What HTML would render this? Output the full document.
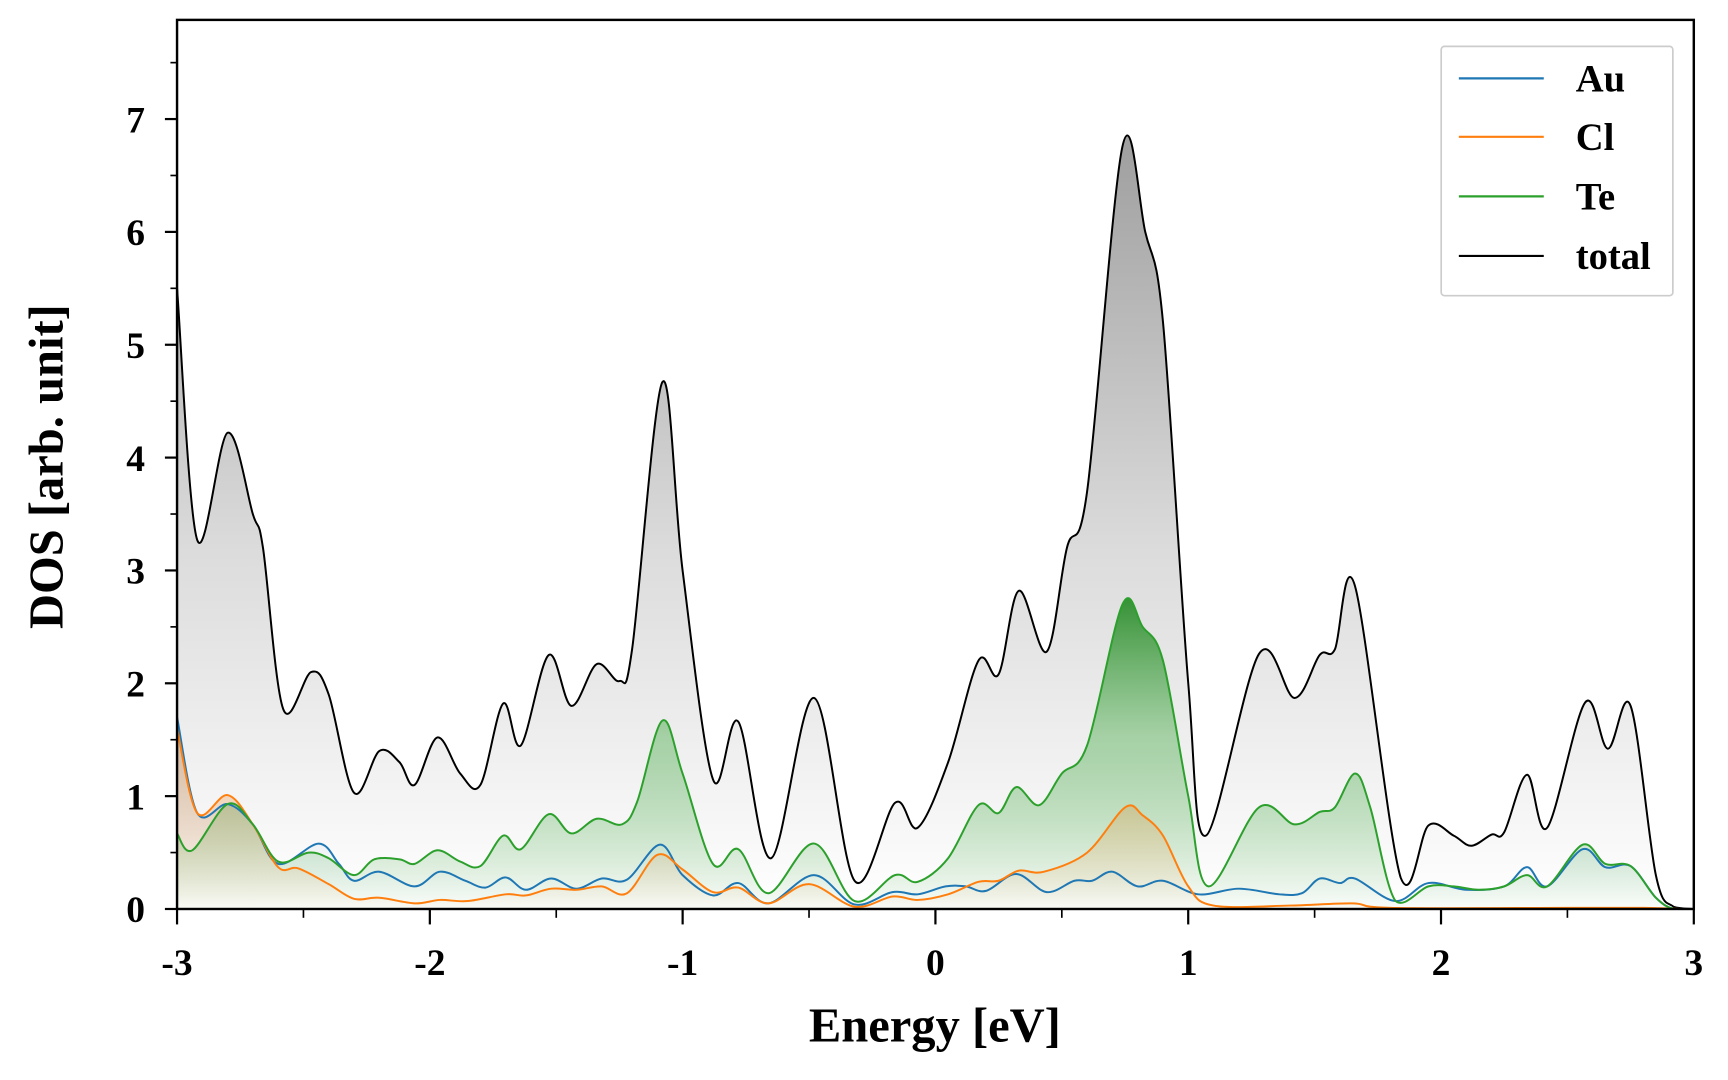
<!DOCTYPE html>
<html><head><meta charset="utf-8"><style>
html,body{margin:0;padding:0;background:#fff;}
svg{display:block;}
text{font-family:"Liberation Serif",serif;font-weight:bold;fill:#000;}
</style></head><body>
<svg width="1728" height="1080" viewBox="0.5 0 1566.5 979" xmlns="http://www.w3.org/2000/svg">
<defs>
<linearGradient id="gTot" gradientUnits="userSpaceOnUse" x1="0" y1="108" x2="0" y2="824">
<stop offset="0" stop-color="#9c9c9c"/><stop offset="0.55" stop-color="#dcdcdc"/><stop offset="1" stop-color="#ffffff"/></linearGradient>
<linearGradient id="gTe" gradientUnits="userSpaceOnUse" x1="0" y1="540" x2="0" y2="824">
<stop offset="0" stop-color="#2a8c2a" stop-opacity="0.95"/><stop offset="0.45" stop-color="#6ab86a" stop-opacity="0.55"/><stop offset="1" stop-color="#2ca02c" stop-opacity="0.02"/></linearGradient>
<linearGradient id="gCl" gradientUnits="userSpaceOnUse" x1="0" y1="660" x2="0" y2="824">
<stop offset="0" stop-color="#e07a20" stop-opacity="0.4"/><stop offset="1" stop-color="#ff7f0e" stop-opacity="0.02"/></linearGradient>
<linearGradient id="gAu" gradientUnits="userSpaceOnUse" x1="0" y1="660" x2="0" y2="824">
<stop offset="0" stop-color="#1f77b4" stop-opacity="0.12"/><stop offset="1" stop-color="#1f77b4" stop-opacity="0.0"/></linearGradient>
<clipPath id="plotClip"><rect x="161" y="18" width="1375" height="806"/></clipPath>
</defs>
<g id="plot" clip-path="url(#plotClip)"></g>
<g id="axes"></g>
<rect x="161" y="18" width="1375" height="806" fill="none" stroke="#000" stroke-width="2.2"/>
<g>
<rect x="1307" y="42" width="210" height="226" rx="3" fill="#fff" fill-opacity="0.85" stroke="#ccc" stroke-width="1.5"/>
<line x1="1323" y1="71" x2="1400" y2="71" stroke="#1f77b4" stroke-width="2"/>
<text x="1429" y="83" font-size="35">Au</text>
<line x1="1323" y1="124" x2="1400" y2="124" stroke="#ff7f0e" stroke-width="2"/>
<text x="1429" y="136" font-size="35">Cl</text>
<line x1="1323" y1="178" x2="1400" y2="178" stroke="#2ca02c" stroke-width="2"/>
<text x="1429" y="190" font-size="35">Te</text>
<line x1="1323" y1="232" x2="1400" y2="232" stroke="#000" stroke-width="2"/>
<text x="1429" y="244" font-size="35">total</text>
</g>
<text x="848" y="944" font-size="44" text-anchor="middle">Energy [eV]</text>
<text transform="translate(57,423) rotate(-90)" font-size="44" text-anchor="middle">DOS [arb. unit]</text>
</svg>
<script>
const totE=[-3,-2.92,-2.8,-2.7,-2.66,-2.58,-2.47,-2.4,-2.3,-2.2,-2.12,-2.06,-1.97,-1.88,-1.8,-1.71,-1.64,-1.53,-1.44,-1.34,-1.25,-1.2,-1.08,-1.0,-0.88,-0.78,-0.65,-0.48,-0.32,-0.16,-0.07,0.05,0.17,0.25,0.33,0.44,0.52,0.6,0.74,0.83,0.9,1.0,1.07,1.28,1.42,1.52,1.58,1.66,1.84,1.95,2.05,2.12,2.2,2.25,2.34,2.42,2.57,2.66,2.75,2.85,2.92,3.0];
const totV=[5.5,3.27,4.22,3.5,3.2,1.77,2.1,1.9,1.03,1.4,1.3,1.1,1.52,1.2,1.1,1.82,1.45,2.25,1.8,2.17,2.02,2.3,4.67,3.0,1.15,1.66,0.45,1.87,0.25,0.94,0.72,1.3,2.2,2.08,2.82,2.28,3.2,3.7,6.76,6.0,5.2,2.0,0.65,2.26,1.87,2.25,2.3,2.86,0.28,0.74,0.65,0.56,0.66,0.68,1.19,0.72,1.83,1.42,1.8,0.3,0.02,0];
const teE=[-3,-2.94,-2.8,-2.7,-2.6,-2.48,-2.4,-2.3,-2.22,-2.12,-2.06,-1.97,-1.88,-1.8,-1.71,-1.64,-1.53,-1.44,-1.34,-1.24,-1.18,-1.08,-1.0,-0.88,-0.78,-0.66,-0.48,-0.32,-0.16,-0.07,0.05,0.17,0.25,0.32,0.41,0.5,0.6,0.74,0.82,0.9,1.0,1.08,1.28,1.42,1.52,1.58,1.66,1.72,1.82,1.95,2.05,2.15,2.25,2.34,2.42,2.56,2.65,2.75,2.85,2.92,3.0];
const teV=[0.67,0.52,0.93,0.75,0.42,0.5,0.45,0.3,0.44,0.44,0.4,0.52,0.42,0.38,0.65,0.53,0.84,0.67,0.8,0.75,0.95,1.67,1.2,0.4,0.53,0.14,0.58,0.07,0.3,0.24,0.45,0.92,0.85,1.08,0.92,1.2,1.45,2.7,2.5,2.2,1.0,0.2,0.9,0.75,0.86,0.9,1.2,0.9,0.07,0.2,0.2,0.17,0.2,0.3,0.2,0.57,0.4,0.38,0.1,0,0];
const auE=[-3,-2.92,-2.8,-2.7,-2.6,-2.44,-2.36,-2.3,-2.2,-2.06,-1.96,-1.86,-1.78,-1.7,-1.62,-1.52,-1.42,-1.32,-1.22,-1.09,-1.0,-0.88,-0.78,-0.66,-0.48,-0.32,-0.17,-0.07,0.04,0.12,0.2,0.32,0.44,0.55,0.62,0.7,0.8,0.9,1.04,1.2,1.36,1.45,1.52,1.6,1.66,1.82,1.95,2.1,2.25,2.34,2.42,2.56,2.65,2.75,2.85,2.92,3.0];
const auV=[1.7,0.85,0.93,0.75,0.4,0.58,0.4,0.25,0.33,0.2,0.33,0.25,0.19,0.28,0.17,0.27,0.18,0.27,0.26,0.57,0.3,0.12,0.23,0.05,0.3,0.04,0.15,0.13,0.2,0.2,0.16,0.31,0.15,0.25,0.25,0.33,0.2,0.25,0.13,0.18,0.13,0.14,0.27,0.23,0.27,0.07,0.23,0.17,0.2,0.37,0.2,0.53,0.37,0.38,0.1,0,0];
const clE=[-3,-2.92,-2.8,-2.7,-2.6,-2.52,-2.4,-2.3,-2.2,-2.06,-1.96,-1.85,-1.7,-1.62,-1.52,-1.42,-1.32,-1.22,-1.1,-1.0,-0.88,-0.78,-0.66,-0.5,-0.32,-0.17,-0.07,0.05,0.17,0.25,0.33,0.43,0.6,0.75,0.82,0.9,1.0,1.1,1.4,1.65,1.8,2.5,2.8,2.95,3.0];
const clV=[1.6,0.85,1.01,0.75,0.37,0.36,0.22,0.09,0.1,0.05,0.08,0.07,0.13,0.12,0.18,0.17,0.2,0.14,0.48,0.35,0.15,0.19,0.05,0.22,0.02,0.11,0.08,0.13,0.24,0.25,0.34,0.33,0.5,0.9,0.83,0.65,0.2,0.03,0.03,0.05,0.01,0.01,0.01,0,0];
const xTicks=[-3,-2,-1,0,1,2,3];
const xTickLabels=["-3","-2","-1","0","1","2","3"];
const yTicks=[0,1,2,3,4,5,6,7];
const yTickLabels=["0","1","2","3","4","5","6","7"];

const X0=161,X1=1536,Y0=824,YT=18,XMIN=-3,XMAX=3,YMAX=(824-18)/102.3;
function sx(e){return X0+(e-XMIN)/(XMAX-XMIN)*(X1-X0);}
function sy(v){return Y0-v/YMAX*(Y0-YT);}
const NS='http://www.w3.org/2000/svg';
function curve(E,V){
  const p=E.map((e,i)=>[sx(e),sy(V[i])]);
  let d='M'+p[0][0].toFixed(1)+','+p[0][1].toFixed(1);
  for(let i=0;i<p.length-1;i++){
    const a=p[Math.max(i-1,0)],b=p[i],c=p[i+1],n=p[Math.min(i+2,p.length-1)];
    let c1y=b[1]+(c[1]-a[1])/6,c2y=c[1]-(n[1]-b[1])/6;
    c1y=Math.min(c1y,Y0);c2y=Math.min(c2y,Y0);
    d+=' C'+(b[0]+(c[0]-a[0])/6).toFixed(1)+','+c1y.toFixed(1)+' '+(c[0]-(n[0]-b[0])/6).toFixed(1)+','+c2y.toFixed(1)+' '+c[0].toFixed(1)+','+c[1].toFixed(1);
  }
  return {d:d,x0:p[0][0],x1:p[p.length-1][0]};
}
const plot=document.getElementById('plot');
function series(E,V,color,grad,name){
  const c=curve(E,V);
  const f=document.createElementNS(NS,'path');
  f.setAttribute('d',c.d+' L'+c.x1+','+Y0+' L'+c.x0+','+Y0+' Z');
  f.setAttribute('fill','url(#'+grad+')');
  
  
  plot.appendChild(f);
  const l=document.createElementNS(NS,'path');
  l.setAttribute('d',c.d);l.setAttribute('fill','none');l.setAttribute('stroke',color);l.setAttribute('stroke-width','1.8');
  
  
  return l;
}
const lines=[series(totE,totV,'#000','gTot','total'),series(teE,teV,'#2ca02c','gTe','te'),series(clE,clV,'#ff7f0e','gCl','cl'),series(auE,auV,'#1f77b4','gAu','au')];
[lines[0],lines[3],lines[2],lines[1]].forEach(l=>plot.appendChild(l));

const axes=document.getElementById('axes');
function ln(x1,y1,x2,y2,w){const l=document.createElementNS(NS,'line');l.setAttribute('x1',x1);l.setAttribute('y1',y1);l.setAttribute('x2',x2);l.setAttribute('y2',y2);l.setAttribute('stroke','#000');l.setAttribute('stroke-width',w);


axes.appendChild(l);}
function tx(x,y,s,anchor,name){const t=document.createElementNS(NS,'text');t.setAttribute('x',x);t.setAttribute('y',y);t.setAttribute('font-size','34');t.setAttribute('text-anchor',anchor);t.textContent=s;


axes.appendChild(t);}
xTicks.forEach((e,i)=>{ln(sx(e),Y0,sx(e),Y0+14,2);tx(sx(e),884,xTickLabels[i],'middle','x-tick-label');});
for(let e=-2.5;e<3;e+=1){ln(sx(e),Y0,sx(e),Y0+8,1.5);}
yTicks.forEach((v,i)=>{ln(X0,sy(v),X0-11,sy(v),2);tx(132,sy(v)+12,yTickLabels[i],'end','y-tick-label');});
for(let v=0.5;v<YMAX;v+=0.5){if(v%1!==0)ln(X0,sy(v),X0-6,sy(v),1.5);}
</script>
</body></html>
